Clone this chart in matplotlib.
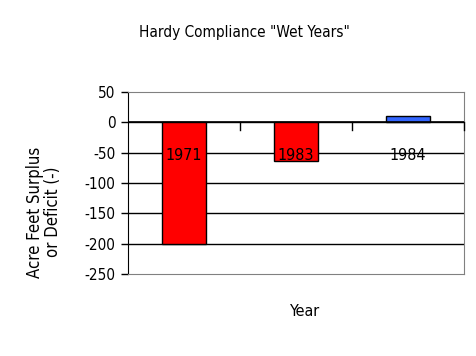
import matplotlib.pyplot as plt
import numpy as np

years = ["1971", "1983", "1984"]
values = [-200, -63, 11]
colors = ["#ff0000", "#ff0000", "#3366ff"]

plt.rcParams['font.family'] = ['DejaVu Sans']
plt.rcParams['font.stretch'] = 'condensed'
plt.rcParams['axes.unicode_minus'] = False

fig = plt.figure(figsize=(4.76, 3.56), dpi=100)
ax = fig.add_axes([128/476, 1-274/356, 336/476, 182/356])

x = np.arange(len(years))
ax.bar(x, values, width=0.4, color=colors, edgecolor="black", linewidth=1, zorder=3)

ax.set_xlim(-0.5, 2.5)
ax.set_ylim(-250, 50)
ax.set_yticks(range(-250, 51, 50))
ax.tick_params(axis="y", length=5, width=1, labelsize=11, pad=4)
ax.set_xticks([])

# horizontal gridlines (black)
for v in range(-200, 1, 50):
    ax.axhline(v, color="black", linewidth=1, zorder=1)
ax.axhline(0, color="black", linewidth=1.2, zorder=4)

# category boundary ticks on the zero line
for b in [0.5, 1.5, 2.5]:
    ax.plot([b, b], [0, -12], color="black", linewidth=1, zorder=4, clip_on=False)

# year labels
for i, y in enumerate(years):
    ax.text(i, -54, y, ha="center", va="center", fontsize=11.5, zorder=5)

for s in ["top", "right", "bottom"]:
    ax.spines[s].set_color("#808080")
ax.spines["left"].set_color("black")

fig.text(244/476, 1-33/356, 'Hardy Compliance "Wet Years"', ha="center", va="center", fontsize=11)
fig.text(44/476, 1-212/356, "Acre Feet Surplus\nor Deficit (-)", ha="center", va="center",
         rotation=90, fontsize=12, linespacing=1.0)
fig.text(305/476, 1-311/356, "Year", ha="center", va="center", fontsize=11.5)

fig.savefig("out.png", dpi=100)
